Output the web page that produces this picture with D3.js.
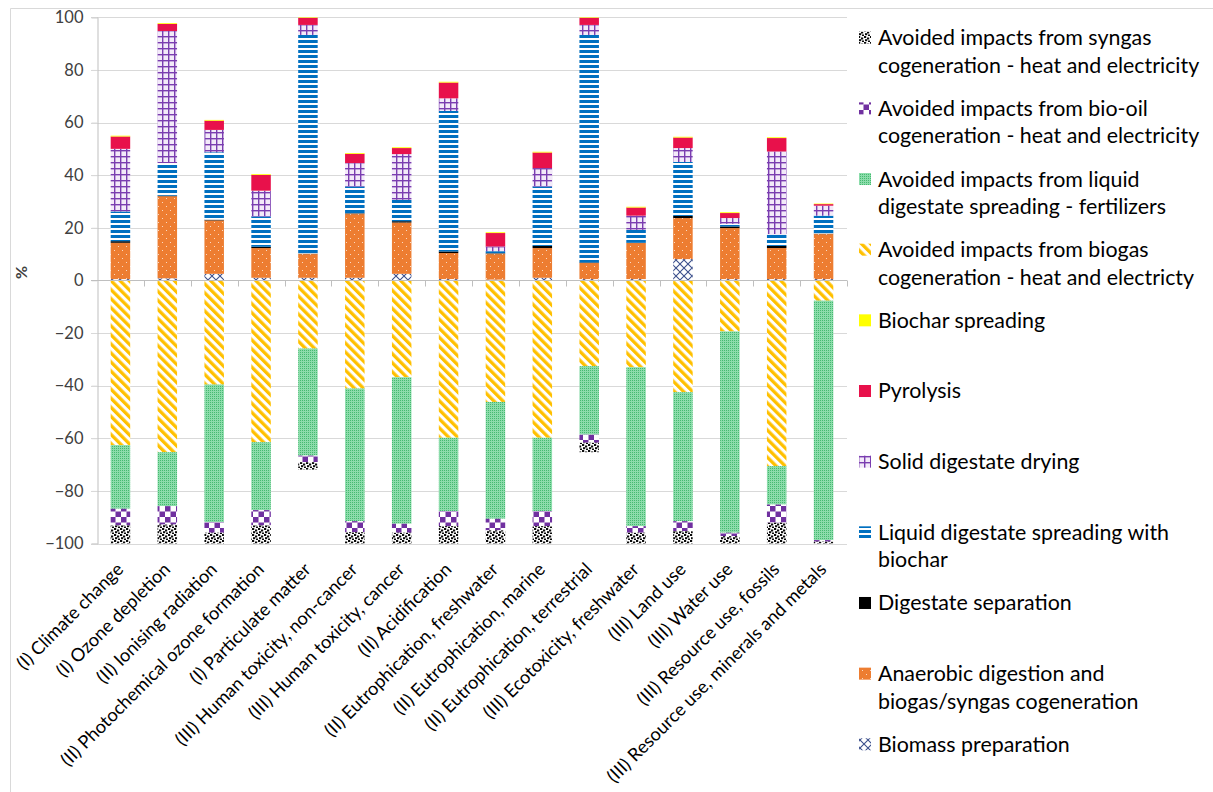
<!DOCTYPE html>
<html>
<head>
<meta charset="utf-8">
<script src="https://cdn.jsdelivr.net/npm/d3@7"></script>
<style>
  html, body { margin: 0; padding: 0; background: #fff; }
  svg { display: block; font-family: Lato, "Open Sans", sans-serif; }
</style>
</head>
<body>
<svg id="chart" width="1213" height="792"></svg>
<script>
// Impact categories (x axis)
const categories = [
  "(I) Climate change", "(I) Ozone depletion", "(II) Ionising radiation",
  "(II) Photochemical ozone formation", "(I) Particulate matter",
  "(III) Human toxicity, non-cancer", "(III) Human toxicity, cancer",
  "(II) Acidification", "(II) Eutrophication, freshwater",
  "(II) Eutrophication, marine", "(II) Eutrophication, terrestrial",
  "(III) Ecotoxicity, freshwater", "(III) Land use", "(III) Water use",
  "(III) Resource use, fossils", "(III) Resource use, minerals and metals"
];

// Process contributions, % (positive: burdens)
const biomassPreparation   = [0.5, 0.8, 2.5, 1.0, 1.0, 1.0, 2.5, 0.5, 0.3, 1.0, 0.5, 0.5, 8.1, 0.5, 0.5, 0.5];
const anaerobicDigestion   = [13.8, 31.2, 20.3, 11.3, 9.0, 24.2, 19.5, 9.9, 9.7, 11.3, 6.1, 13.7, 15.6, 19.4, 11.8, 17.1];
const digestateSeparation  = [0.6, 0.2, 0.3, 0.5, 0.2, 0.3, 0.5, 0.6, 0.3, 0.8, 0.2, 0.1, 0.8, 0.6, 0.8, 0.2];
const liquidWithBiochar    = [11.3, 12.4, 25.6, 11.5, 83.1, 10.2, 8.1, 53.4, 0.8, 22.6, 86.5, 4.9, 20.5, 1.0, 4.5, 6.8];
const solidDrying          = [23.8, 50.2, 8.5, 9.8, 3.8, 8.9, 17.4, 4.8, 1.8, 7.0, 3.8, 5.4, 5.3, 2.2, 31.4, 3.8];
const pyrolysis            = [4.7, 2.7, 3.5, 6.0, 2.7, 3.5, 2.3, 6.0, 5.1, 5.9, 2.7, 3.1, 4.0, 1.9, 5.1, 0.6];
const biocharSpreading     = [0.3, 0.3, 0.3, 0.3, 0.2, 0.3, 0.3, 0.3, 0.3, 0.3, 0.2, 0.3, 0.3, 0.3, 0.3, 0.2];

// Avoided impacts, % (negative: credits)
const avoidedBiogas        = [-62.6, -65.3, -39.6, -61.5, -25.9, -41.1, -36.8, -59.8, -46.2, -59.8, -32.6, -33.0, -42.5, -19.4, -70.6, -7.7];
const avoidedFertilizers   = [-24.2, -20.5, -52.3, -25.8, -40.7, -50.4, -55.7, -27.9, -44.4, -27.9, -26.0, -60.4, -49.0, -76.5, -14.6, -91.0];
const avoidedBioOil        = [-6.3, -7.0, -4.0, -5.8, -2.5, -4.2, -3.4, -5.7, -4.4, -5.7, -3.1, -2.5, -3.8, -1.3, -6.9, -0.6];
const avoidedSyngas        = [-6.9, -7.2, -4.1, -6.9, -2.8, -4.3, -4.1, -6.6, -5.0, -6.6, -3.6, -4.1, -4.7, -2.8, -7.9, -0.7];

const yTicks = [-100, -80, -60, -40, -20, 0, 20, 40, 60, 80, 100];

// Series in stacking order, with legend text lines
const series = [
  { key: "biomass",   values: biomassPreparation,  fill: "p-biomass", label: ["Biomass preparation"] },
  { key: "ad",        values: anaerobicDigestion,  fill: "p-ad",      label: ["Anaerobic digestion and", "biogas/syngas cogeneration"] },
  { key: "sep",       values: digestateSeparation, fill: "#000000",   label: ["Digestate separation"] },
  { key: "liquid",    values: liquidWithBiochar,   fill: "p-liquid",  label: ["Liquid digestate spreading with", "biochar"] },
  { key: "solid",     values: solidDrying,         fill: "p-solid",   label: ["Solid digestate drying"] },
  { key: "pyro",      values: pyrolysis,           fill: "#E8114B",   label: ["Pyrolysis"] },
  { key: "biochar",   values: biocharSpreading,    fill: "#FFFF00",   label: ["Biochar spreading"] },
  { key: "avBiogas",  values: avoidedBiogas,       fill: "p-biogas",  label: ["Avoided impacts from biogas", "cogeneration - heat and electricty"] },
  { key: "avFert",    values: avoidedFertilizers,  fill: "p-fert",    label: ["Avoided impacts from liquid", "digestate spreading - fertilizers"] },
  { key: "avBioOil",  values: avoidedBioOil,       fill: "p-biooil",  label: ["Avoided impacts from bio-oil", "cogeneration - heat and electricity"] },
  { key: "avSyngas",  values: avoidedSyngas,       fill: "p-syngas",  label: ["Avoided impacts from syngas", "cogeneration - heat and electricity"] }
];
const legendOrder = ["avSyngas", "avBioOil", "avFert", "avBiogas", "biochar", "pyro", "solid", "liquid", "sep", "ad", "biomass"];

const svg = d3.select("#chart");
const W = 1213, H = 792;

// ---- fill patterns ----
const defs = svg.append("defs");
function pattern(id, w, h, draw, transform) {
  const p = defs.append("pattern").attr("id", id)
    .attr("patternUnits", "userSpaceOnUse").attr("width", w).attr("height", h);
  if (transform) p.attr("patternTransform", transform);
  draw(p);
}
pattern("p-syngas", 6, 6, p => {
  p.append("rect").attr("width", 6).attr("height", 6).attr("fill", "#fff");
  [[0, 0], [3, 1.5], [1, 3.2], [4, 4.5]].forEach(([x, y]) =>
    p.append("rect").attr("x", x).attr("y", y).attr("width", 2.2).attr("height", 2).attr("fill", "#0a0a0a"));
});
pattern("p-biooil", 11, 11, p => {
  p.append("rect").attr("width", 11).attr("height", 11).attr("fill", "#fff");
  p.append("rect").attr("width", 5.5).attr("height", 5.5).attr("fill", "#7030A0");
  p.append("rect").attr("x", 5.5).attr("y", 5.5).attr("width", 5.5).attr("height", 5.5).attr("fill", "#7030A0");
});
pattern("p-fert", 2, 2, p => {
  p.append("rect").attr("width", 2).attr("height", 2).attr("fill", "#8CDCAB");
  p.append("rect").attr("width", 1).attr("height", 1).attr("fill", "#45BA70");
});
pattern("p-biogas", 6.4, 6.4, p => {
  p.append("rect").attr("width", 6.4).attr("height", 6.4).attr("fill", "#fff");
  p.append("rect").attr("width", 3.3).attr("height", 6.4).attr("fill", "#FFC000");
}, "rotate(-45)");
pattern("p-solid", 6, 6, p => {
  p.append("rect").attr("width", 6).attr("height", 6).attr("fill", "#F3EAF9");
  p.append("rect").attr("x", 0).attr("y", 0).attr("width", 6).attr("height", 1.4).attr("fill", "#7A3DB0");
  p.append("rect").attr("x", 0).attr("y", 0).attr("width", 1.4).attr("height", 6).attr("fill", "#7A3DB0");
});
pattern("p-liquid", 6, 5, p => {
  p.append("rect").attr("width", 6).attr("height", 5).attr("fill", "#fff");
  p.append("rect").attr("y", 0).attr("width", 6).attr("height", 3).attr("fill", "#0070C0");
});
pattern("p-ad", 8, 8, p => {
  p.append("rect").attr("width", 8).attr("height", 8).attr("fill", "#ED7D31");
  p.append("rect").attr("x", 2).attr("y", 2).attr("width", 1).attr("height", 1).attr("fill", "#FBD9C2");
  p.append("rect").attr("x", 6).attr("y", 6).attr("width", 1).attr("height", 1).attr("fill", "#FBD9C2");
});
pattern("p-biomass", 8, 8, p => {
  p.append("rect").attr("width", 8).attr("height", 8).attr("fill", "#fff");
  p.append("path").attr("d", "M0,0 L8,8 M8,0 L0,8").attr("stroke", "#3B4F8C").attr("stroke-width", 1.1).attr("fill", "none");
});
const fillOf = f => f.startsWith("#") ? f : `url(#${f})`;

// ---- frame ----
svg.append("path").attr("d", `M10.5,${H} L10.5,8.5 L${W},8.5`)
  .attr("fill", "none").attr("stroke", "#D9D9D9").attr("stroke-width", 1);

// ---- scales ----
const plot = { left: 97, right: 847, top: 17.3, bottom: 543.5 };
const x = d3.scaleBand().domain(categories).range([plot.left, plot.right])
  .paddingInner(0.584).paddingOuter(0.292);
const y = d3.scaleLinear().domain([-100, 100]).range([plot.bottom, plot.top]);

// gridlines
svg.append("g").selectAll("line").data(yTicks).join("line")
  .attr("x1", plot.left - 6).attr("x2", plot.right)
  .attr("y1", d => Math.round(y(d)) + 0.5).attr("y2", d => Math.round(y(d)) + 0.5)
  .attr("stroke", "#D9D9D9").attr("stroke-width", 1);

// y axis
const yAxis = svg.append("g").attr("transform", `translate(${plot.left + 0.5},0)`)
  .call(d3.axisLeft(y).tickValues(yTicks).tickSize(6).tickPadding(8));
yAxis.select(".domain").attr("stroke", "#BFBFBF");
yAxis.selectAll(".tick line").attr("stroke", "#D9D9D9");
yAxis.selectAll(".tick text").attr("font-size", 16.5).attr("fill", "#404040")
  .attr("font-family", "Lato, sans-serif");

svg.append("text").attr("transform", `translate(27,${y(3)}) rotate(-90)`)
  .attr("text-anchor", "middle").attr("font-size", 16).attr("font-weight", 700)
  .attr("fill", "#404040").text("%");

// ---- stacked bars ----
const rows = categories.map((c, i) => {
  const r = { category: c };
  series.forEach(s => { r[s.key] = s.values[i]; });
  return r;
});
const stacked = d3.stack().keys(series.map(s => s.key))
  .offset(d3.stackOffsetDiverging)(rows);

svg.append("g").selectAll("g").data(stacked).join("g")
  .attr("fill", (d, i) => fillOf(series[i].fill))
  .selectAll("rect").data(d => d).join("rect")
  .attr("x", d => x(d.data.category))
  .attr("width", x.bandwidth())
  .attr("y", d => y(Math.max(d[0], d[1])))
  .attr("height", d => Math.abs(y(d[0]) - y(d[1])));

// category axis at zero
const zeroY = Math.round(y(0)) + 0.5;
svg.append("line").attr("x1", plot.left - 6).attr("x2", plot.right)
  .attr("y1", zeroY).attr("y2", zeroY).attr("stroke", "#BFBFBF");
const step = x.step();
svg.append("g").selectAll("line").data(d3.range(1, categories.length + 1)).join("line")
  .attr("x1", k => Math.round(plot.left + k * step) + 0.5)
  .attr("x2", k => Math.round(plot.left + k * step) + 0.5)
  .attr("y1", zeroY).attr("y2", zeroY + 6).attr("stroke", "#BFBFBF");

// category labels below the plot
svg.append("g").selectAll("text").data(categories).join("text")
  .attr("transform", d => `translate(${x(d) + x.bandwidth() / 2 + 4},${plot.bottom + 27}) rotate(-45)`)
  .attr("text-anchor", "end")
  .attr("font-size", 18.2).attr("fill", "#000")
  .text(d => d);

// ---- legend ----
const legend = svg.append("g");
const legendTop = 37.7, legendGap = 70.66;
legendOrder.forEach((key, i) => {
  const s = series.find(t => t.key === key);
  const cy = legendTop + i * legendGap;
  legend.append("rect").attr("x", 859).attr("y", cy - 6).attr("width", 12).attr("height", 12)
    .attr("fill", fillOf(s.fill));
  const t = legend.append("text").attr("x", 878).attr("y", cy)
    .attr("font-size", 21.4).attr("fill", "#000");
  s.label.forEach((line, j) => {
    t.append("tspan").attr("x", 878).attr("dy", j === 0 ? "0.35em" : 27.6).text(line);
  });
});
</script>
</body>
</html>
